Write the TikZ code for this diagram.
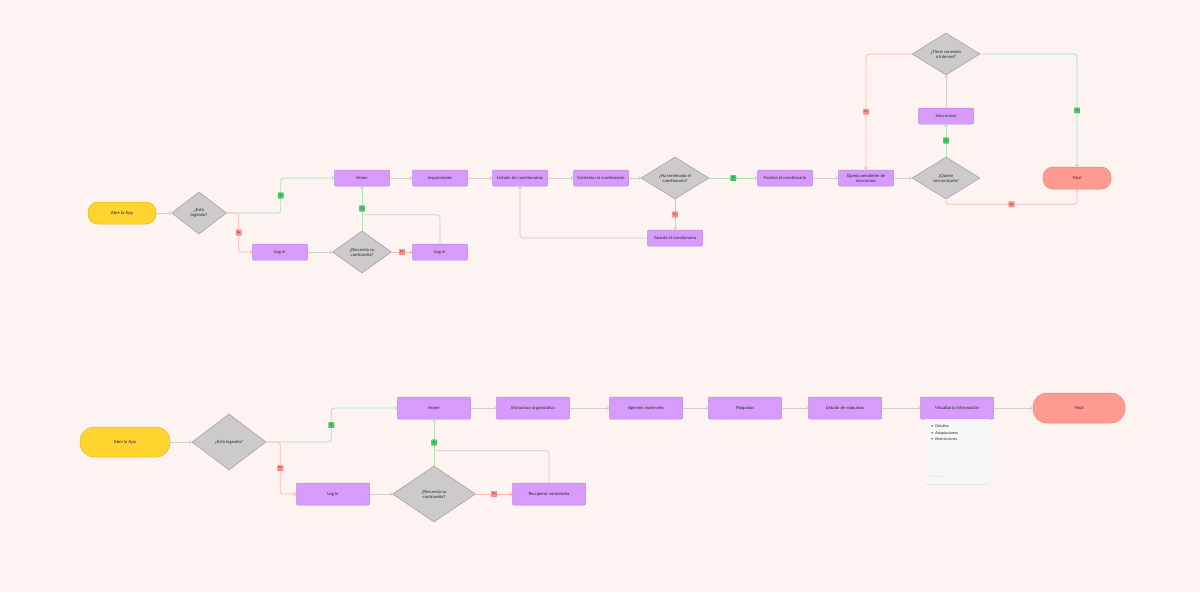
\documentclass[tikz,border=0pt]{standalone}
\usepackage{fontspec}
\setmainfont{Lato}
\usetikzlibrary{shapes.geometric,arrows.meta}
\definecolor{Canvas}{HTML}{FDF3F1}
\definecolor{Ink}{HTML}{2A2230}
\definecolor{Violet}{HTML}{D79CFB}
\definecolor{Lilac}{HTML}{B887DA}
\definecolor{Pebble}{HTML}{CCCACA}
\definecolor{Stone}{HTML}{9F9C9C}
\definecolor{Sun}{HTML}{FFD430}
\definecolor{SunLine}{HTML}{E2B62A}
\definecolor{Coral}{HTML}{FF9A91}
\definecolor{CoralLine}{HTML}{E48379}
\definecolor{FlowGray}{HTML}{D2CDCD}
\definecolor{YesLine}{HTML}{A8E4B6}
\definecolor{YesTag}{HTML}{45CC68}
\definecolor{NoLine}{HTML}{FFB7B0}
\definecolor{NoTag}{HTML}{FF8E87}
\definecolor{Paper}{HTML}{F8F7F7}

\begin{document}
\begin{tikzpicture}[x=1pt,y=-1pt,every node/.style={font=\fontsize{4.3}{5}\selectfont,text=Ink},proc/.style={rectangle,draw=Lilac,fill=Violet,line width=0.5pt,rounded corners=1pt,minimum width=55pt,minimum height=16pt,inner sep=0.5pt,align=center},bigproc/.style={proc,minimum width=73pt,minimum height=22pt},cond/.style={diamond,draw=Stone,fill=Pebble,line width=0.5pt,inner sep=0pt,align=center},pill/.style={rectangle,draw=SunLine,fill=Sun,line width=0.5pt,minimum width=68pt,minimum height=22pt,rounded corners=10pt},endpill/.style={pill,draw=CoralLine,fill=Coral},flow/.style={draw=FlowGray,line width=0.8pt,rounded corners=3pt,-{Straight Barb[length=1.6pt,width=3.4pt]}},yes/.style={flow,draw=YesLine},no/.style={flow,draw=NoLine},yeslbl/.style={rectangle,fill=YesTag,draw=YesTag!80!black,line width=0.2pt,rounded corners=0.6pt,inner sep=0.6pt,minimum size=5.5pt,font=\fontsize{2.4}{2.8}\selectfont},nolbl/.style={yeslbl,fill=NoTag,draw=NoTag!85!black}]
\fill[Canvas] (0,0) rectangle (1200,592);
% upper flow
\node[pill] (abre) at (122,213) {Abre la App};
\node[cond,minimum width=55pt,minimum height=42pt] (logeado) at (199,213) {¿Está\\logeado?};
\node[proc] (login) at (280,252) {Log in};
\node[cond,minimum width=59pt,minimum height=42pt] (recuerda) at (362,252) {¿Recuerda su\\contraseña?};
\node[proc] (loginb) at (440,252) {Log in};
\node[proc] (home) at (362,178) {Home};
\node[proc] (insp) at (440,178) {Inspecciones};
\node[proc] (listado) at (520,178) {Listado de cuestionarios};
\node[proc] (contesta) at (601,178) {Contesta un cuestionario};
\node[cond,minimum width=68pt,minimum height=42pt] (terminado) at (675,178) {¿Ha terminado el\\cuestionario?};
\node[proc] (guarda) at (675,238) {Guarda el cuestionario};
\node[proc] (finaliza) at (785,178) {Finaliza el cuestionario};
\node[proc] (pendiente) at (866,178) {Queda pendiente de\\sincronizar};
\node[cond,minimum width=68pt,minimum height=42pt] (quiere) at (946,178) {¿Quiere\\sincronizarlo?};
\node[proc] (sincro) at (946,116) {Sincronizar};
\node[cond,minimum width=68pt,minimum height=42pt] (conexion) at (946,54) {¿Tiene conexión\\a Internet?};
\node[endpill] (final) at (1077,178) {Final};
\draw[flow] (abre) -- (logeado);
\draw[yes] (logeado.east) -- ++(54,0) |- node[pos=0.25,yeslbl]{Sí} (home.west);
\draw[no] (logeado.east) -- ++(12,0) |- node[pos=0.25,nolbl]{No} (login.west);
\draw[flow] (login) -- (recuerda);
\draw[no] (recuerda) -- node[nolbl]{No} (loginb);
\draw[yes] (recuerda) -- node[yeslbl]{Sí} (home);
\draw[flow,-] (loginb.north) |- ([yshift=16pt]recuerda.north);
\draw[flow] (home) -- (insp);
\draw[flow] (insp) -- (listado);
\draw[flow] (listado) -- (contesta);
\draw[flow] (contesta) -- (terminado);
\draw[yes] (terminado) -- node[yeslbl]{Sí} (finaliza);
\draw[no] (terminado) -- node[nolbl]{No} (guarda);
\draw[flow] (guarda.west) -| (listado.south);
\draw[flow] (finaliza) -- (pendiente);
\draw[flow] (pendiente) -- (quiere);
\draw[yes] (quiere) -- node[yeslbl]{Sí} (sincro);
\draw[flow] (sincro) -- (conexion);
\draw[no] (conexion.west) -| node[pos=0.75,nolbl]{No} (pendiente.north);
\draw[yes] (conexion.east) -| node[pos=0.75,yeslbl]{Sí} (final.north);
\draw[no] (quiere.south) -- ++(0,5) -| node[pos=0.25,nolbl]{No} (final.south);
% lower flow
\node[pill,minimum width=90pt,minimum height=30pt,rounded corners=14pt] (abreB) at (125,442) {Abre la App};
\node[cond,minimum width=74pt,minimum height=56pt] (logeadoB) at (229,442) {¿Está logeado?};
\node[bigproc] (loginB) at (333,494) {Log in};
\node[cond,minimum width=83pt,minimum height=56pt] (recuerdaB) at (434,494) {¿Recuerda su\\contraseña?};
\node[bigproc] (recuperar) at (549,494) {Recuperar contraseña};
\node[bigproc] (homeB) at (434,408) {Home};
\node[bigproc] (estructura) at (533,408) {Estructura organizativa};
\node[bigproc] (agentes) at (646,408) {Agentes materiales};
\node[bigproc] (maquinas) at (745,408) {Máquinas};
\node[bigproc] (listadoB) at (845,408) {Listado de máquinas};
\node[bigproc] (visualiza) at (957,408) {Visualiza la información};
\node[endpill,minimum width=92pt,minimum height=30pt,rounded corners=14pt] (finalB) at (1079,408) {Final};
\draw[flow] (abreB) -- (logeadoB);
\draw[yes] (logeadoB.east) -- ++(65,0) |- node[pos=0.25,yeslbl]{Sí} (homeB.west);
\draw[no] (logeadoB.east) -- ++(14,0) |- node[pos=0.25,nolbl]{No} (loginB.west);
\draw[flow] (loginB) -- (recuerdaB);
\draw[no] (recuerdaB) -- node[nolbl]{No} (recuperar);
\draw[yes] (recuerdaB) -- node[yeslbl]{Sí} (homeB);
\draw[flow,-] (recuperar.north) |- ([yshift=15pt]recuerdaB.north);
\draw[flow] (homeB) -- (estructura);
\draw[flow] (estructura) -- (agentes);
\draw[flow] (agentes) -- (maquinas);
\draw[flow] (maquinas) -- (listadoB);
\draw[flow] (listadoB) -- (visualiza);
\draw[flow] (visualiza) -- (finalB);
% note under the last box
\fill[black!9] (925,420) rectangle (989,485.2);
\fill[Paper] (925,419) rectangle (989,484);
\node[anchor=north west,align=left,inner sep=0pt,font=\fontsize{3.8}{6.5}\selectfont] (nota) at (931,424.5) {\textbullet\ \ Detalles\\\textbullet\ \ Adaptaciones\\\textbullet\ \ Restricciones};
\node[anchor=west,inner sep=0pt,font=\fontsize{2.3}{3}\selectfont,text=black!18] (firma) at (930,476.5) {Nuevo grupo};
\end{tikzpicture}
\end{document}
